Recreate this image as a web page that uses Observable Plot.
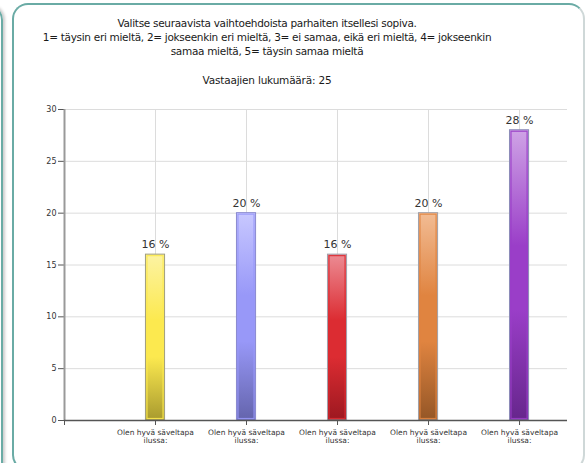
<!DOCTYPE html>
<html>
<head>
<meta charset="utf-8">
<script src="https://cdn.jsdelivr.net/npm/d3@7"></script>
<script src="https://cdn.jsdelivr.net/npm/@observablehq/plot@0.6"></script>
<style>
  html, body { margin: 0; padding: 0; background: #fff; }
  body { width: 585px; height: 463px; overflow: hidden; position: relative; font-family: "DejaVu Sans", sans-serif; }
  .side { position: absolute; left: -40px; top: 4px; width: 43px; height: 520px; border: 2px solid #6aaba5; border-radius: 16px; box-sizing: border-box; box-shadow: 2px 0 3px #ccc; }
  .panel { position: absolute; left: 12px; top: 3px; width: 573px; height: 468px; border: 2px solid #6aaba5; border-right-color: #cfd8d8; border-radius: 16px; box-sizing: border-box; background: #fff; }
  .title { position: absolute; left: 17px; width: 500px; top: 16px; text-align: center; font-size: 10.5px; letter-spacing: -0.3px; line-height: 14px; color: #1a1a1a; }
  .sub { position: absolute; left: 17px; width: 500px; top: 74px; text-align: center; font-size: 10.5px; letter-spacing: -0.2px; line-height: 13px; color: #1a1a1a; }
  #chart { position: absolute; left: 0; top: 95px; }
</style>
</head>
<body>
<div class="side"></div>
<div class="panel"></div>
<div class="title">Valitse seuraavista vaihtoehdoista parhaiten itsellesi sopiva.<br>1= täysin eri mieltä, 2= jokseenkin eri mieltä, 3= ei samaa, eikä eri mieltä, 4= jokseenkin<br>samaa mieltä, 5= täysin samaa mieltä</div>
<div class="sub">Vastaajien lukumäärä: 25</div>
<div id="chart"></div>
<script>
// --- data ---
const options = [1, 2, 3, 4, 5];
const tickLabels = [
  "Olen hyvä säveltapa\nilussa:",
  "Olen hyvä säveltapa\nilussa:",
  "Olen hyvä säveltapa\nilussa:",
  "Olen hyvä säveltapa\nilussa:",
  "Olen hyvä säveltapa\nilussa:"
];
const percents = [16, 20, 16, 20, 28];
const yTicks = [0, 5, 10, 15, 20, 25, 30];

// --- styles ---
const topColors = ["#fcf3a3", "#c8c8ff", "#ec8c94", "#f2bc94", "#cfa3e6"];
const midColors = ["#fce94f", "#9898f8", "#dc2c32", "#e08440", "#9a3ec8"];
const botColors = ["#a89a2e", "#6464ac", "#9c1820", "#945626", "#66268c"];
const edgeColors = ["#a09e7c", "#8a8ad0", "#a0a0ac", "#a0a0a8", "#8c8cb8"];

const rows = options.map((o, i) => ({
  x: o,
  value: percents[i],
  label: `${percents[i]} %`,
  grad: `url(#grad${i})`,
  mid: midColors[i],
  edge: edgeColors[i]
}));

const W = 585, H = 360;
const chart = Plot.plot({
  width: W,
  height: H,
  marginLeft: 64,
  marginRight: 18,
  marginTop: 14,
  marginBottom: 35,
  style: { fontFamily: "DejaVu Sans, sans-serif", background: "transparent", overflow: "visible" },
  x: { type: "linear", domain: [0, 5.527] },
  y: { domain: [0, 30] },
  color: { type: "identity" },
  marks: [
    Plot.ruleY(yTicks.slice(1), { stroke: "#dcdcdc", strokeWidth: 1 }),
    Plot.ruleX(options, { y1: 0, y2: 30, stroke: "#dcdcdc", strokeWidth: 1 }),
    Plot.axisY({ ticks: yTicks, tickSize: 6, tickPadding: 2, fontSize: 8, color: "#333", stroke: "#555", label: null }),
    Plot.axisX({ ticks: [0, ...options], tickFormat: d => d === 0 ? "" : tickLabels[d - 1], tickSize: 5, tickPadding: 3, fontSize: 7.5, lineHeight: 1.15, color: "#333", stroke: "#555", label: null }),
    Plot.rectY(rows, { x1: d => d.x - 0.105, x2: d => d.x + 0.105, y: "value", fill: "grad", stroke: "edge", strokeWidth: 1 }),
    Plot.rectY(rows, { x1: d => d.x - 0.105, x2: d => d.x + 0.105, y: "value", fill: "none", stroke: "mid", strokeWidth: 1.2, inset: 1.5, strokeOpacity: 0.9 }),
    Plot.ruleX([0], { y1: 0, y2: 30, stroke: "#999", strokeWidth: 2 }),
    Plot.ruleY([0], { stroke: "#555", strokeWidth: 1.5 }),
    Plot.text(rows, { x: "x", y: "value", text: "label", dy: -10, fontSize: 11, fill: "#333" })
  ]
});

// gradients for bars
const defs = d3.select(chart).insert("defs", ":first-child");
options.forEach((o, i) => {
  const g = defs.append("linearGradient").attr("id", `grad${i}`)
    .attr("x1", 0).attr("y1", 0).attr("x2", 0).attr("y2", 1);
  g.append("stop").attr("offset", "0%").attr("stop-color", topColors[i]);
  g.append("stop").attr("offset", "40%").attr("stop-color", midColors[i]);
  g.append("stop").attr("offset", "62%").attr("stop-color", midColors[i]);
  g.append("stop").attr("offset", "100%").attr("stop-color", botColors[i]);
});

document.getElementById("chart").appendChild(chart);
</script>
</body>
</html>
